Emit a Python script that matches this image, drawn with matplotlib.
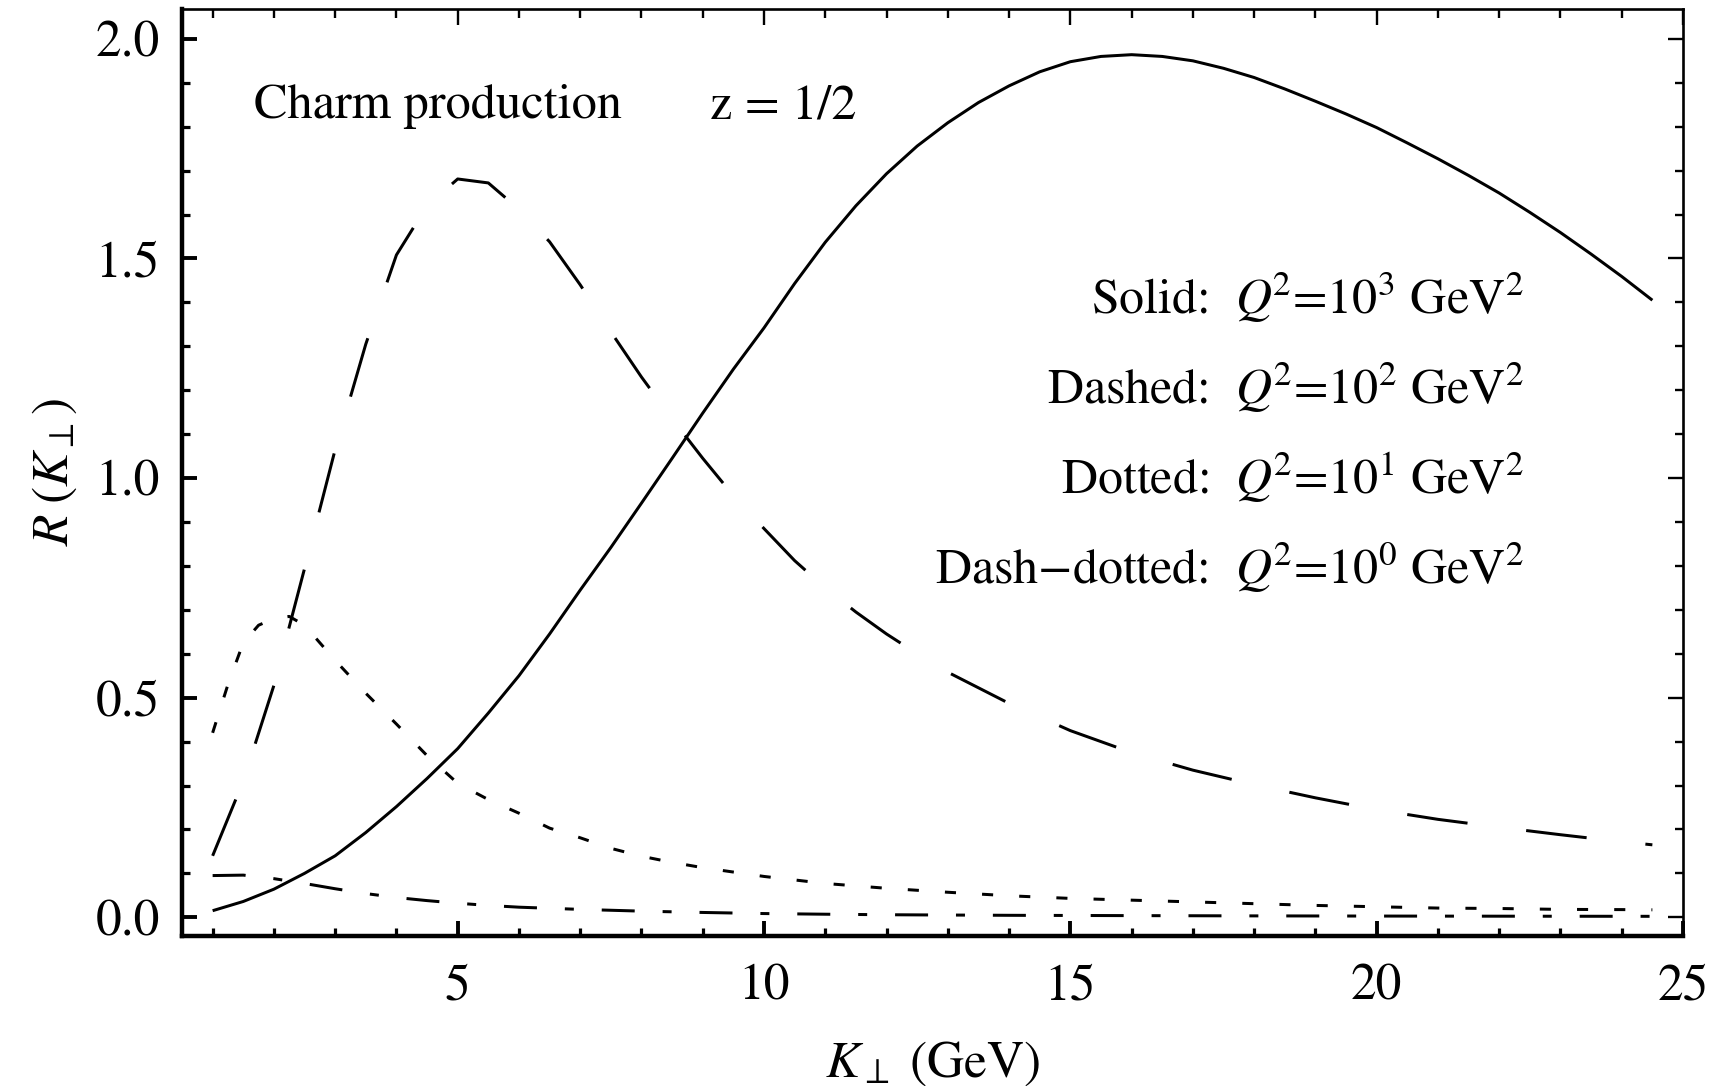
import matplotlib
matplotlib.use("Agg")
import matplotlib.pyplot as plt
from matplotlib.ticker import MultipleLocator, FixedLocator, FormatStrFormatter

plt.rcParams['font.family'] = ['STIXGeneral', 'DejaVu Serif']
plt.rcParams['mathtext.fontset'] = 'stix'

# ---- data ----
k_solid = [1, 1.5, 2, 2.5, 3, 3.5, 4, 4.5, 5, 5.5, 6, 6.5, 7, 7.5, 8, 8.5, 9, 9.5, 10,
           10.5, 11, 11.5, 12, 12.5, 13, 13.5, 14, 14.5, 15, 15.5, 16, 16.5, 17, 17.5,
           18, 18.5, 19, 19.5, 20, 20.5, 21, 21.5, 22, 22.5, 23, 23.5, 24, 24.5]
r_solid = [0.015, 0.036, 0.064, 0.100, 0.140, 0.193, 0.252, 0.316, 0.384, 0.465, 0.550,
           0.645, 0.745, 0.842, 0.943, 1.045, 1.148, 1.248, 1.342, 1.443, 1.537, 1.620,
           1.693, 1.756, 1.809, 1.855, 1.893, 1.925, 1.948, 1.960, 1.964, 1.960, 1.950,
           1.933, 1.912, 1.886, 1.858, 1.829, 1.798, 1.763, 1.727, 1.689, 1.649, 1.605,
           1.559, 1.510, 1.459, 1.405]

k_dashed = [1, 1.5, 2, 2.5, 3, 3.5, 4, 4.5, 5, 5.5, 6, 6.5, 7, 7.5, 8, 8.5, 9, 9.5, 10,
            10.5, 11, 11.5, 12, 12.5, 13, 14, 15, 16, 17, 18, 19, 20, 21, 22, 23, 24, 24.5]
r_dashed = [0.14, 0.31, 0.528, 0.794, 1.065, 1.305, 1.508, 1.620, 1.681, 1.672, 1.612,
            1.538, 1.440, 1.333, 1.230, 1.135, 1.045, 0.960, 0.885, 0.812, 0.750, 0.695,
            0.645, 0.600, 0.558, 0.487, 0.425, 0.375, 0.335, 0.302, 0.272, 0.245, 0.223,
            0.205, 0.188, 0.172, 0.165]

k_dotted = [1, 1.25, 1.5, 1.75, 2, 2.25, 2.5, 3, 3.5, 4, 4.5, 5, 5.5, 6, 6.5, 7, 7.5, 8,
            8.5, 9, 9.5, 10, 11, 12, 13, 14, 15, 16, 17, 18, 19, 20, 21, 22, 23, 24, 24.5]
r_dotted = [0.42, 0.53, 0.625, 0.665, 0.680, 0.685, 0.665, 0.585, 0.510, 0.440, 0.368,
            0.305, 0.268, 0.237, 0.203, 0.181, 0.157, 0.139, 0.125, 0.113, 0.103, 0.093,
            0.077, 0.066, 0.057, 0.049, 0.043, 0.039, 0.035, 0.031, 0.027, 0.024, 0.021,
            0.020, 0.018, 0.0175, 0.017]

k_dashdot = [1, 1.5, 2, 2.5, 3, 3.5, 4, 4.5, 5, 5.5, 6, 7, 8, 9, 10, 11, 12, 14, 16, 18,
             20, 22, 24.5]
r_dashdot = [0.095, 0.096, 0.088, 0.077, 0.065, 0.054, 0.045, 0.038, 0.032, 0.027, 0.023,
             0.018, 0.014, 0.011, 0.0085, 0.007, 0.0058, 0.0045, 0.0038, 0.0032, 0.0028,
             0.0025, 0.0022]

x_major = [5, 10, 15, 20, 25]
y_major = [0.0, 0.5, 1.0, 1.5, 2.0]

legend_lines = [r"Solid:  $Q^{\!2}$=10$^3$ GeV$^2$",
                r"Dashed:  $Q^{\!2}$=10$^2$ GeV$^2$",
                r"Dotted:  $Q^{\!2}$=10$^1$ GeV$^2$",
                r"Dash$-$dotted:  $Q^{\!2}$=10$^0$ GeV$^2$"]

# ---- figure ----
fig = plt.figure(figsize=(17.16, 10.86), dpi=100)
ax = fig.add_axes([182/1716, 1 - 936/1086, (1683-182)/1716, (936-9)/1086])

lw = 2.16
ax.plot(k_solid, r_solid, color='black', lw=lw, solid_capstyle='butt',
        solid_joinstyle='round')
ax.plot(k_dashed, r_dashed, color='black', lw=lw, linestyle=(0, (20.3, 19.7)))
ax.plot(k_dotted, r_dotted, color='black', lw=lw, linestyle=(0, (3.7, 8.7)))
ax.plot(k_dashdot, r_dashdot, color='black', lw=lw, linestyle=(0, (11, 9.3, 3, 9.3)))

ax.set_xlim(0.5, 25)
ax.set_ylim(-0.0426, 2.068)

ax.xaxis.set_major_locator(FixedLocator(x_major))
ax.xaxis.set_minor_locator(MultipleLocator(1))
ax.yaxis.set_major_locator(FixedLocator(y_major))
ax.yaxis.set_minor_locator(MultipleLocator(0.1))
ax.yaxis.set_major_formatter(FormatStrFormatter('%.1f'))

ax.tick_params(which='both', direction='in', top=False, right=False, labelsize=37)
ax.tick_params(which='major', length=10.8, width=2.8)
ax.tick_params(which='minor', length=5.8, width=2.3)
ax.tick_params(axis='x', which='major', pad=20)
ax.tick_params(axis='y', which='major', pad=16)

for s in ['left', 'bottom']:
    ax.spines[s].set_linewidth(3.2)
for s in ['top', 'right']:
    ax.spines[s].set_linewidth(1.9)

secx = ax.secondary_xaxis('top')
secx.xaxis.set_major_locator(FixedLocator(x_major))
secx.xaxis.set_minor_locator(MultipleLocator(1))
secx.tick_params(which='both', direction='in', labeltop=False)
secx.tick_params(which='major', length=11.5, width=1.7)
secx.tick_params(which='minor', length=6.5, width=1.7)
secx.spines['top'].set_visible(False)

secy = ax.secondary_yaxis('right')
secy.yaxis.set_major_locator(FixedLocator(y_major))
secy.yaxis.set_minor_locator(MultipleLocator(0.1))
secy.tick_params(which='both', direction='in', labelright=False)
secy.tick_params(which='major', length=11, width=1.7)
secy.tick_params(which='minor', length=6, width=1.7)
secy.spines['right'].set_visible(False)

ax.set_xlabel(r"$K_{\perp}$ (GeV)", fontsize=37, labelpad=21)
ax.set_ylabel(r"$R\;(K_{\perp})$", fontsize=37, labelpad=12)

ax.text(0.048, 0.882, "Charm production", transform=ax.transAxes,
        fontsize=36.3, ha='left', va='baseline')
ax.text(0.352, 0.882, "z = 1/2", transform=ax.transAxes,
        fontsize=36.3, ha='left', va='baseline')

for i, t in enumerate(legend_lines):
    ax.text(0.894, 0.671 - i * 0.0970, t, transform=ax.transAxes,
            fontsize=36, ha='right', va='baseline')

fig.savefig("out.png", dpi=100)
